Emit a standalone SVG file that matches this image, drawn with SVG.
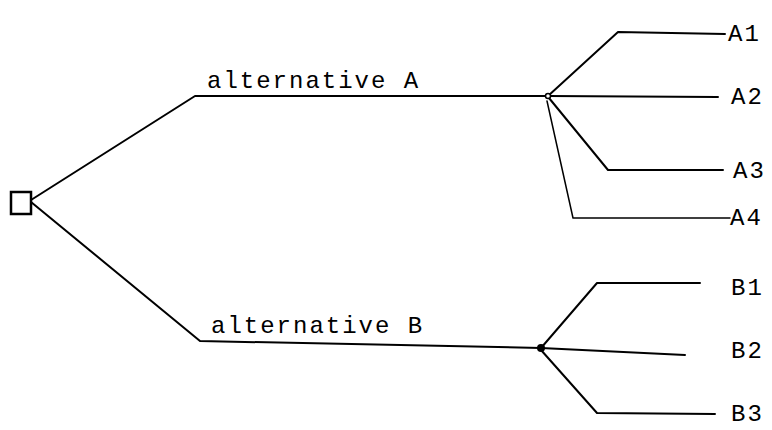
<svg xmlns="http://www.w3.org/2000/svg" width="772" height="430" viewBox="0 0 772 430">
  <style>
    .edge { fill: none; stroke: #000; stroke-width: 2; stroke-linejoin: round; stroke-linecap: round; }
    .thin { stroke-width: 1.5; }
    .lbl { font-family: "Liberation Mono", "DejaVu Sans Mono", monospace; font-size: 24px; letter-spacing: 2px; fill: #000; }
  </style>
  <rect width="772" height="430" fill="#fff"/>

  <g id="connectors">
    <!-- alternative A -->
    <polyline class="edge" points="31,200 195,96 548,96"/>
    <polyline class="edge" points="548,96 618,32 725,34"/>
    <polyline class="edge" points="548,96 718,97"/>
    <polyline class="edge" points="549,98 608,170 723,170"/>
    <polyline class="edge thin" points="547,101 573,218 730,218"/>
    <!-- alternative B -->
    <polyline class="edge" points="31,202 200,341 541,348"/>
    <polyline class="edge" points="541,348 597,283 700,283"/>
    <polyline class="edge" points="541,348 685,355"/>
    <polyline class="edge" points="541,350 597,413 715,414"/>
  </g>

  <g id="decision">
    <rect x="11" y="192" width="20" height="22" fill="#fff" stroke="#000" stroke-width="2.5"/>
  </g>

  <g id="chance-A">
    <circle cx="548" cy="96" r="2.5" fill="#fff" stroke="#000" stroke-width="1.5"/>
  </g>
  <g id="chance-B">
    <circle cx="541" cy="348" r="4" fill="#000"/>
  </g>

  <g id="label-alt-A"><text class="lbl" x="207" y="88">alternative A</text></g>
  <g id="label-alt-B"><text class="lbl" x="211" y="333">alternative B</text></g>

  <g id="A1"><text class="lbl" x="728" y="41">A1</text></g>
  <g id="A2"><text class="lbl" x="731" y="104">A2</text></g>
  <g id="A3"><text class="lbl" x="733" y="178">A3</text></g>
  <g id="A4"><text class="lbl" x="730" y="225">A4</text></g>
  <g id="B1"><text class="lbl" x="731" y="295">B1</text></g>
  <g id="B2"><text class="lbl" x="731" y="358">B2</text></g>
  <g id="B3"><text class="lbl" x="731" y="421">B3</text></g>
</svg>
